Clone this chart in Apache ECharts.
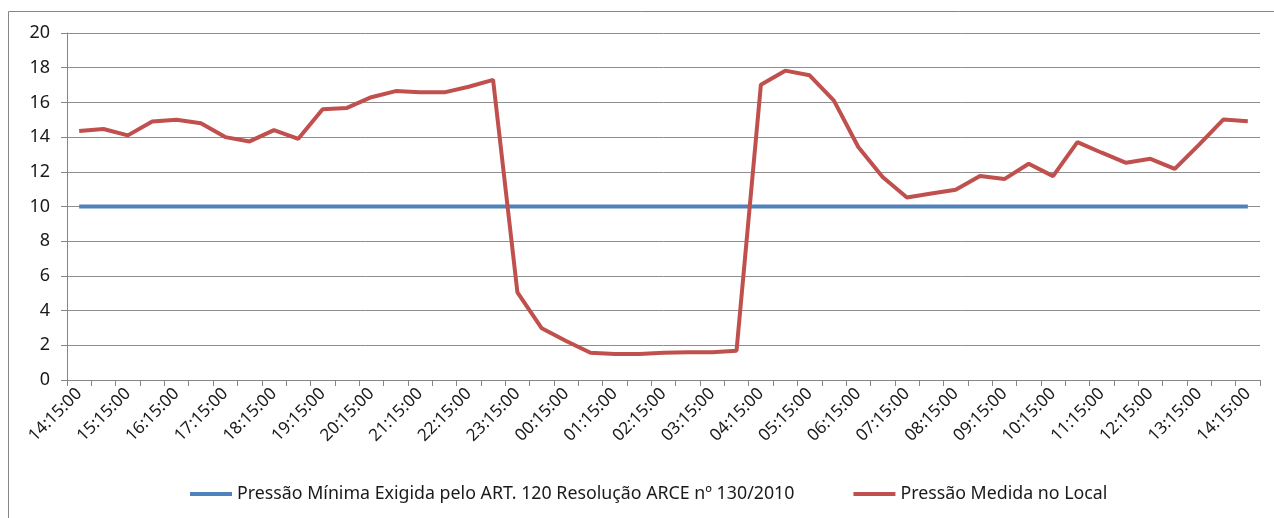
<!DOCTYPE html>
<html>
<head>
<meta charset="utf-8">
<script src="https://cdn.jsdelivr.net/npm/echarts@6/dist/echarts.min.js"></script>
<style>
html,body{margin:0;padding:0;background:#fff;}
#chart{width:1274px;height:518px;}
</style>
</head>
<body>
<div id="chart"></div>
<script>
var categories = [
  "14:15:00","14:45:00","15:15:00","15:45:00","16:15:00","16:45:00","17:15:00","17:45:00",
  "18:15:00","18:45:00","19:15:00","19:45:00","20:15:00","20:45:00","21:15:00","21:45:00",
  "22:15:00","22:45:00","23:15:00","23:45:00","00:15:00","00:45:00","01:15:00","01:45:00",
  "02:15:00","02:45:00","03:15:00","03:45:00","04:15:00","04:45:00","05:15:00","05:45:00",
  "06:15:00","06:45:00","07:15:00","07:45:00","08:15:00","08:45:00","09:15:00","09:45:00",
  "10:15:00","10:45:00","11:15:00","11:45:00","12:15:00","12:45:00","13:15:00","13:45:00",
  "14:15:00"
];
var pressaoMinima = [
  10,10,10,10,10,10,10,10,10,10,10,10,10,10,10,10,10,10,10,10,10,10,10,10,10,
  10,10,10,10,10,10,10,10,10,10,10,10,10,10,10,10,10,10,10,10,10,10,10,10
];
var pressaoMedida = [
  14.35,14.47,14.1,14.9,15.0,14.8,14.0,13.75,14.4,13.9,
  15.6,15.68,16.3,16.65,16.58,16.58,16.9,17.3,
  5.05,2.98,2.25,1.57,1.5,1.5,1.57,1.6,1.6,1.69,
  17.02,17.83,17.56,16.1,13.43,11.7,10.52,10.75,10.96,11.76,
  11.58,12.46,11.75,13.71,13.1,12.52,12.75,12.17,13.57,15.02,14.92
];
var seriesNames = [
  "Pressão Mínima Exigida pelo ART. 120 Resolução ARCE nº 130/2010",
  "Pressão Medida no Local"
];
var yTicks = { min: 0, max: 20, interval: 2 };

var FONT = '"Noto Sans", "Open Sans", sans-serif';
var chart = echarts.init(document.getElementById('chart'), null, {renderer: 'canvas'});
chart.setOption({
  animation: false,
  backgroundColor: '#fff',
  graphic: [{
    type: 'rect',
    shape: {x: 8.5, y: 11.5, width: 1290, height: 540},
    style: {fill: 'none', stroke: '#868686', lineWidth: 1},
    silent: true, z: 0
  }],
  grid: {left: 67, right: 14, top: 33, bottom: 138, containLabel: false},
  legend: {
    bottom: 10,
    left: 185,
    itemWidth: 42,
    itemHeight: 4,
    itemGap: 59,
    icon: 'rect',
    textStyle: {fontFamily: FONT, fontSize: 17.8, color: '#1a1a1a'},
    data: seriesNames
  },
  xAxis: {
    type: 'category',
    data: categories,
    boundaryGap: true,
    axisLine: {lineStyle: {color: '#868686', width: 1}},
    axisTick: {show: true, interval: 0, length: 6, lineStyle: {color: '#868686'}},
    axisLabel: {
      interval: 1,
      rotate: 45,
      margin: 11,
      fontFamily: FONT,
      fontSize: 17,
      color: '#1a1a1a'
    },
    splitLine: {show: false}
  },
  yAxis: {
    type: 'value',
    min: yTicks.min,
    max: yTicks.max,
    interval: yTicks.interval,
    axisLine: {show: true, lineStyle: {color: '#868686', width: 1}},
    axisTick: {show: true, inside: false, length: 6, lineStyle: {color: '#868686'}},
    axisLabel: {margin: 17, fontFamily: FONT, fontSize: 18, color: '#1a1a1a'},
    splitLine: {show: true, lineStyle: {color: '#8e8e8e', width: 1}}
  },
  series: [
    {
      name: seriesNames[0],
      type: 'line',
      data: pressaoMinima,
      symbol: 'none',
      lineStyle: {color: '#4F81BD', width: 4},
      itemStyle: {color: '#4F81BD'},
      z: 3
    },
    {
      name: seriesNames[1],
      type: 'line',
      data: pressaoMedida,
      symbol: 'none',
      lineStyle: {color: '#C0504D', width: 4},
      itemStyle: {color: '#C0504D'},
      z: 4
    }
  ]
});
</script>
</body>
</html>
